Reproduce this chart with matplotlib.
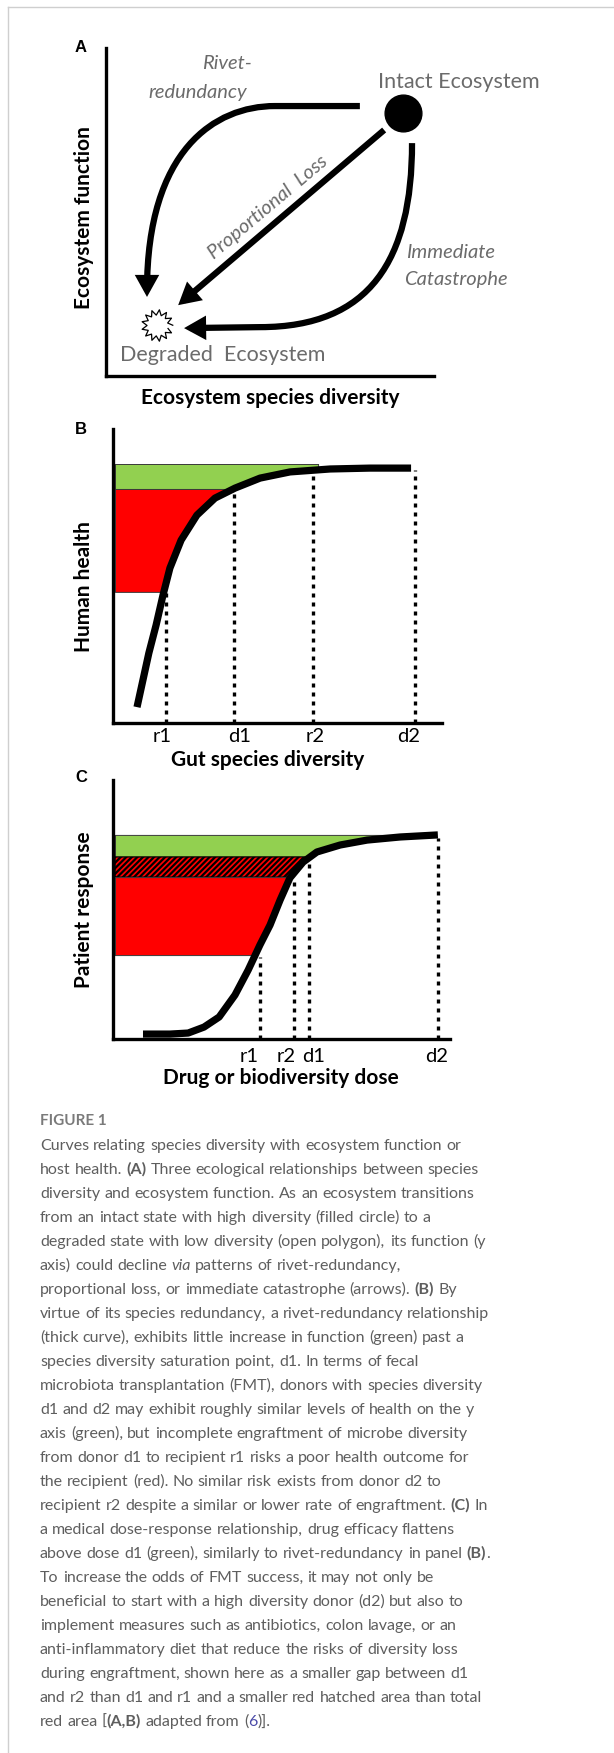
import re
import numpy as np
import matplotlib
matplotlib.use("Agg")
import matplotlib.pyplot as plt
from matplotlib.path import Path
from matplotlib.patches import FancyArrowPatch
from matplotlib.lines import Line2D

W, H = 614, 1753

# ---- panel A: states and arrow control points (0-100 concept units)
intact_state = (90.5, 80.2)
degraded_state = (15.5, 15.5)
rivet_path = [(77.4, 82.3), (51.5, 82.3), (33.2, 82.3), (12.5, 68.9), (12.5, 24.1)]
proportional_path = [(84.8, 75.0), (22.0, 21.6)]
catastrophe_path = [(93.3, 71.0), (93.3, 35.4), (80.5, 14.9), (47.0, 14.9), (23.8, 14.6)]

# ---- panel B: gut diversity vs human health
gut_diversity = [7.3, 9.1, 10.9, 13.1, 15.2, 17.3, 20.7, 25.5, 31.0, 37.1, 44.7, 53.8, 66.0, 78.1, 90.6]
human_health = [5.4, 14.6, 23.8, 33.3, 43.5, 52.7, 62.2, 70.7, 76.5, 79.9, 83.3, 85.4, 86.4, 86.7, 86.7]
b_markers = [16.1, 36.8, 60.8, 91.8]
b_labels = ["r1", "d1", "r2", "d2"]
b_tops = [44.6, 78.2, 85.0, 86.0]
b_levels = [88.1, 79.6, 44.6]          # green top, d1 level, r1 level

# ---- panel C: dose vs patient response
dose = [8.9, 16.9, 22.3, 27.0, 31.5, 36.2, 40.1, 43.6, 46.6, 49.6, 52.5, 56.4, 60.5, 67.4, 75.4, 85.2, 96.4]
response = [1.9, 1.9, 2.3, 4.6, 8.5, 17.0, 26.6, 36.3, 44.0, 53.7, 62.2, 68.3, 72.2, 74.9, 76.8, 78.0, 78.8]
c_markers = [43.6, 53.7, 58.2, 96.4]
c_labels = ["r1", "r2", "d1", "d2"]
c_tops = [31.7, 62.5, 69.1, 77.6]
c_levels = [78.8, 70.3, 62.5, 32.4]    # green top, d1 level, r2 level, r1 level

caption_lines = [
    "Curves relating species diversity with ecosystem function or",
    "host health. **(A)** Three ecological relationships between species",
    "diversity and ecosystem function. As an ecosystem transitions",
    "from an intact state with high diversity (filled circle) to a",
    "degraded state with low diversity (open polygon), its function (y",
    "axis) could decline _via_ patterns of rivet-redundancy,",
    "proportional loss, or immediate catastrophe (arrows). **(B)** By",
    "virtue of its species redundancy, a rivet-redundancy relationship",
    "(thick curve), exhibits little increase in function (green) past a",
    "species diversity saturation point, d1. In terms of fecal",
    "microbiota transplantation (FMT), donors with species diversity",
    "d1 and d2 may exhibit roughly similar levels of health on the y",
    "axis (green), but incomplete engraftment of microbe diversity",
    "from donor d1 to recipient r1 risks a poor health outcome for",
    "the recipient (red). No similar risk exists from donor d2 to",
    "recipient r2 despite a similar or lower rate of engraftment. **(C)** In",
    "a medical dose-response relationship, drug efficacy flattens",
    "above dose d1 (green), similarly to rivet-redundancy in panel **(B)**.",
    "To increase the odds of FMT success, it may not only be",
    "beneficial to start with a high diversity donor (d2) but also to",
    "implement measures such as antibiotics, colon lavage, or an",
    "anti-inflammatory diet that reduce the risks of diversity loss",
    "during engraftment, shown here as a smaller gap between d1",
    "and r2 than d1 and r1 and a smaller red hatched area than total",
    "red area [**(A,B)** adapted from ({6})].",
]

GREEN = "#92d050"
RED = "#ff0000"
GRAY = "#6b6b6b"
FONT = "Lato"

plt.rcParams["hatch.linewidth"] = 1.6
fig = plt.figure(figsize=(W / 100, H / 100), dpi=100)


def box(l, t, r, b):
    return [l / W, 1 - b / H, (r - l) / W, (b - t) / H]


def fx(x, y):
    return x / W, 1 - y / H


def panel(rect):
    ax = fig.add_axes(rect)
    ax.set_xlim(0, 100)
    ax.set_ylim(0, 100)
    ax.spines[["top", "right"]].set_visible(False)
    for s in ["left", "bottom"]:
        ax.spines[s].set_linewidth(2.4)
        ax.spines[s].set_capstyle("projecting")
    ax.set_xticks([])
    ax.set_yticks([])
    ax.patch.set_alpha(0)
    return ax


def region_edge(yy, xs, ys):
    cap = max(ys) - 0.6
    return np.interp(np.minimum(yy, cap), ys, xs)


def arrow(ax, pts, codes):
    p = FancyArrowPatch(path=Path(pts, codes), arrowstyle="-|>,head_length=9,head_width=5",
                        lw=4.5, color="black", mutation_scale=1, clip_on=False,
                        joinstyle="miter", capstyle="butt")
    ax.add_patch(p)


# frame of the page
fig.add_artist(Line2D([7.5 / W, 7.5 / W], [0, 1 - 7 / H], color="#cfcfcf", lw=1))
fig.add_artist(Line2D([7.5 / W, 1], [1 - 7 / H, 1 - 7 / H], color="#cfcfcf", lw=1))

# ================= panel A
axA = panel(box(106, 48, 434, 376))
arrow(axA, rivet_path, [Path.MOVETO, Path.LINETO, Path.CURVE4, Path.CURVE4, Path.CURVE4])
arrow(axA, proportional_path, [Path.MOVETO, Path.LINETO])
arrow(axA, catastrophe_path, [Path.MOVETO, Path.CURVE4, Path.CURVE4, Path.CURVE4, Path.LINETO])
axA.scatter([intact_state[0]], [intact_state[1]], s=700, color="black", zorder=5, clip_on=False)
ang = np.linspace(0, 2 * np.pi, 27)[:-1]
rad = np.where(np.arange(26) % 2 == 0, 1.0, 0.66)
star = Path(np.column_stack([rad * np.cos(ang), rad * np.sin(ang)]))
axA.scatter([degraded_state[0]], [degraded_state[1]], s=520, marker=star,
            facecolor="white", edgecolor="black", lw=0.9, zorder=5)

ital = dict(ha="center", va="center", style="italic", color=GRAY, family=FONT, clip_on=False)
axA.text(36.9, 95.4, "Rivet-", fontsize=14.5, **ital)
axA.text(28.0, 86.3, "redundancy", fontsize=14.5, **ital)
axA.text(49.4, 51.5, "Proportional  Loss", rotation=40, rotation_mode="anchor", fontsize=14.5, **ital)
axA.text(104.9, 37.8, "Immediate", fontsize=14.5, **ital)
axA.text(106.7, 29.3, "Catastrophe", fontsize=14.5, **ital)
axA.text(107.6, 89.6, "Intact Ecosystem", ha="center", va="center", color=GRAY, fontsize=15.5, family=FONT, clip_on=False)
axA.text(35.7, 6.4, "Degraded  Ecosystem", ha="center", va="center", color=GRAY, fontsize=15.5, family=FONT)

# ================= panel B
axB = panel(box(113, 429, 442, 723))
yy = np.linspace(b_levels[1], b_levels[0], 60)
axB.fill_betweenx(yy, 0.6, region_edge(yy, gut_diversity, human_health), facecolor=GREEN, edgecolor="#3a3a3a", lw=0.7)
yy = np.linspace(b_levels[2], b_levels[1], 120)
axB.fill_betweenx(yy, 0.6, region_edge(yy, gut_diversity, human_health), facecolor=RED, edgecolor="#3a3a3a", lw=0.7)
for m, top in zip(b_markers, b_tops):
    axB.plot([m, m], [0, top], color="black", lw=2.4, ls=(0, (1.2, 1.5)), dash_capstyle="butt")
axB.plot(gut_diversity, human_health, color="black", lw=5.2, solid_capstyle="butt", solid_joinstyle="round", zorder=4)
for m, lab, dx in zip(b_markers, b_labels, [-4, 5, 2, -6]):
    axB.annotate(lab, (m, 0), xytext=(dx * 0.72, -14 * 0.72), textcoords="offset points",
                 ha="center", va="center", fontsize=14.5, family=FONT, annotation_clip=False)

# ================= panel C
axC = panel(box(113, 780, 450, 1039))
yy = np.linspace(c_levels[1], c_levels[0], 60)
axC.fill_betweenx(yy, 0.6, region_edge(yy, dose, response), facecolor=GREEN, edgecolor="#3a3a3a", lw=0.7)
yy = np.linspace(c_levels[2], c_levels[1], 60)
axC.fill_betweenx(yy, 0.6, region_edge(yy, dose, response), facecolor=RED, edgecolor="black", lw=0.9, hatch="//////")
yy = np.linspace(c_levels[3], c_levels[2], 120)
axC.fill_betweenx(yy, 0.6, region_edge(yy, dose, response), facecolor=RED, edgecolor="#3a3a3a", lw=0.7)
for m, top in zip(c_markers, c_tops):
    axC.plot([m, m], [0, top], color="black", lw=2.4, ls=(0, (1.2, 1.5)), dash_capstyle="butt")
axC.plot(dose, response, color="black", lw=5.2, solid_capstyle="butt", solid_joinstyle="round", zorder=4)
for m, lab, dx in zip(c_markers, c_labels, [-11, -8, 4, -1]):
    axC.annotate(lab, (m, 0), xytext=(dx * 0.72, -18 * 0.72), textcoords="offset points",
                 ha="center", va="center", fontsize=14.5, family=FONT, annotation_clip=False)

# panel letters and axis titles
for lbl, y in [("A", 48), ("B", 430), ("C", 778)]:
    fig.text(*fx(81, y), lbl, ha="center", va="center", fontsize=12, weight="bold", family="Liberation Sans")
for txt, x, y in [("Ecosystem species diversity", 270, 398), ("Gut species diversity", 268, 760),
                  ("Drug or biodiversity dose", 281, 1078)]:
    fig.text(*fx(x, y), txt, ha="center", va="center", fontsize=15, weight="bold", family=FONT)
for txt, y in [("Ecosystem function", 218), ("Human health", 587), ("Patient response", 910)]:
    fig.text(*fx(84, y), txt, ha="center", va="center", rotation=90, fontsize=15, weight="bold", family=FONT)

# ================= caption
renderer = fig.canvas.get_renderer()
CAP = dict(family=FONT, fontsize=11.5, color="#5e5e5e")


def width_of(t):
    return t.get_window_extent(renderer=renderer).width


probe1 = fig.text(0, 0, "x x", **CAP)
probe2 = fig.text(0, 0, "xx", **CAP)
space = width_of(probe1) - width_of(probe2)
probe1.remove()
probe2.remove()

fig.text(*fx(40, 1125), "FIGURE 1", ha="left", va="baseline", fontsize=11, weight="bold",
         family=FONT, color="#7a7a7a")

pat = re.compile(r"(\*\*.+?\*\*|_.+?_|\{.+?\})")
for i, line in enumerate(caption_lines):
    base = 1150 + 24 * i
    x = 40.0
    for word in line.split(" "):
        for piece in pat.split(word):
            if not piece:
                continue
            kw = dict(CAP)
            if piece.startswith("**"):
                piece, kw["weight"] = piece[2:-2], "bold"
            elif piece.startswith("_"):
                piece, kw["style"] = piece[1:-1], "italic"
            if piece.startswith("{"):
                piece, kw["color"] = piece[1:-1], "#4a4aa8"
            t = fig.text(*fx(x, base), piece, ha="left", va="baseline", **kw)
            x += width_of(t)
        x += space

fig.savefig("out.png", dpi=100)
